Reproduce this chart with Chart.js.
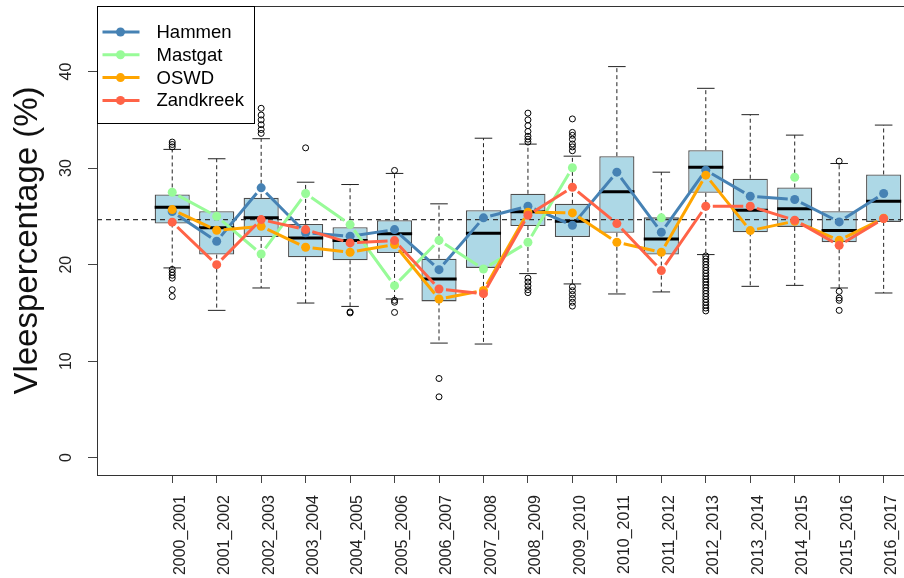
<!DOCTYPE html>
<html>
<head>
<meta charset="utf-8">
<title>Vleespercentage</title>
<script src="https://cdn.jsdelivr.net/npm/chart.js@4.4.1/dist/chart.umd.min.js"></script>
<style>
  body { margin: 0; background: #fff; }
  #wrap { width: 904px; height: 578px; overflow: hidden; }
</style>
</head>
<body>
<div id="wrap"><canvas id="chart" width="950" height="578"></canvas></div>
<script>
// seasons on the x axis
const seasons = ['2000_2001', '2001_2002', '2002_2003', '2003_2004', '2004_2005', '2005_2006',
  '2006_2007', '2007_2008', '2008_2009', '2009_2010', '2010_2011', '2011_2012',
  '2012_2013', '2013_2014', '2014_2015', '2015_2016', '2016_2017'];
const yTicks = [0, 10, 20, 30, 40];

// boxplot stats per season
const boxQ1 = [24.26, 21.04, 22.87, 20.76, 20.45, 21.21, 16.19, 19.66, 24.0, 22.85, 23.3, 21.04, 27.44, 23.35, 23.91, 22.32, 24.43];
const boxMedian = [25.95, 23.81, 24.85, 22.77, 22.49, 23.19, 18.52, 23.25, 25.47, 24.5, 27.54, 22.66, 30.1, 25.64, 25.78, 23.53, 26.57];
const boxQ3 = [27.27, 25.53, 26.92, 24.22, 23.87, 24.6, 20.62, 25.64, 27.34, 26.3, 31.24, 24.9, 31.86, 28.9, 27.99, 25.53, 29.34];
const whiskerLow = [19.66, 15.26, 17.58, 16.02, 15.67, 16.44, 11.87, 11.77, 19.07, 18.0, 16.96, 17.17, 21.04, 17.75, 17.85, 17.58, 17.06];
const whiskerHigh = [31.94, 30.97, 33.05, 28.54, 28.3, 29.45, 26.3, 33.1, 32.49, 31.24, 40.52, 29.58, 38.27, 35.54, 33.42, 30.48, 34.46];
const outliers = [
  [32.7, 32.45, 32.2, 19.5, 19.2, 18.9, 18.6, 17.4, 16.7],
  [],
  [36.2, 35.5, 35.0, 34.5, 34.0, 33.6],
  [32.1],
  [15.1, 15.0],
  [29.76, 16.3, 16.1, 15.05],
  [8.2, 6.3],
  [],
  [35.7, 35.0, 34.4, 33.8, 33.3, 33.0, 32.7, 18.6, 18.2, 17.8, 17.4, 17.1],
  [35.1, 33.7, 33.4, 33.0, 32.5, 32.2, 31.8, 17.7, 17.3, 16.9, 16.5, 16.1, 15.7],
  [],
  [],
  [20.9, 20.6, 20.3, 20.0, 19.7, 19.4, 19.1, 18.8, 18.5, 18.2, 17.9, 17.6, 17.3, 17.0, 16.7, 16.4, 16.1, 15.8, 15.5, 15.2],
  [],
  [],
  [30.72, 17.23, 16.54, 16.3, 15.26],
  []
];
const refLine = 24.67;

// the four areas
const hammen = [25.5, 22.42, 27.96, 23.3, 22.94, 23.63, 19.48, 24.85, 26.05, 24.08, 29.58, 23.35, 29.79, 27.09, 26.75, 24.43, 27.37];
const mastgat = [27.5, 25.0, 21.1, 27.37, 24.15, 17.82, 22.52, 19.55, 22.32, 30.04, null, 24.85, null, null, 29.06, null, null];
const oswd = [25.7, 23.56, 23.97, 21.8, 21.28, 22.08, 16.44, 17.33, 25.43, 25.36, 22.32, 21.28, 29.27, 23.53, 24.5, 22.52, 24.8];
const zandkreek = [24.4, 20.0, 24.67, 23.63, 22.25, 22.49, 17.48, 16.99, 25.12, 28.02, 24.25, 19.38, 26.05, 26.05, 24.6, 22.0, 24.77];

const seriesNames = ['Hammen', 'Mastgat', 'OSWD', 'Zandkreek'];
const seriesColors = ['#4682B4', '#98FB98', '#FFA500', '#FF6347'];

Chart.defaults.font.family = "'Liberation Sans', Arial, sans-serif";

function lineSet(i, values) {
  return {
    type: 'line',
    label: seriesNames[i],
    data: values.map((v, k) => ({ x: k, y: v })),
    borderColor: seriesColors[i],
    backgroundColor: seriesColors[i],
    pointBackgroundColor: seriesColors[i],
    borderWidth: 3,
    pointRadius: 4.5,
    pointBorderWidth: 0,
    showLine: false, // segments drawn with gaps below, like R type="b"
    order: 3 - i
  };
}

const outlierPoints = [];
outliers.forEach((list, i) => list.forEach(v => outlierPoints.push({ x: i, y: v })));

const BOX_INDEX = 5;
const GAP = 7;

// whiskers, medians, reference line, gapped lines, frame and legend
const boxExtras = {
  id: 'boxExtras',
  beforeDatasetsDraw(chart) {
    const ctx = chart.ctx;
    const x = chart.scales.x, y = chart.scales.y;
    const meta = chart.getDatasetMeta(BOX_INDEX);
    ctx.save();
    ctx.strokeStyle = '#222';
    ctx.lineWidth = 1;
    seasons.forEach((s, i) => {
      const px = x.getPixelForValue(i);
      const half = meta.data[i].width / 4;
      ctx.setLineDash([4, 3]);
      ctx.beginPath();
      ctx.moveTo(px, y.getPixelForValue(boxQ3[i]));
      ctx.lineTo(px, y.getPixelForValue(whiskerHigh[i]));
      ctx.moveTo(px, y.getPixelForValue(boxQ1[i]));
      ctx.lineTo(px, y.getPixelForValue(whiskerLow[i]));
      ctx.stroke();
      ctx.setLineDash([]);
      ctx.beginPath();
      ctx.moveTo(px - half, y.getPixelForValue(whiskerHigh[i]));
      ctx.lineTo(px + half, y.getPixelForValue(whiskerHigh[i]));
      ctx.moveTo(px - half, y.getPixelForValue(whiskerLow[i]));
      ctx.lineTo(px + half, y.getPixelForValue(whiskerLow[i]));
      ctx.stroke();
    });
    ctx.restore();
  },
  beforeDatasetDraw(chart, args) {
    if (args.index > 3) return;
    const ctx = chart.ctx;
    const pts = chart.getDatasetMeta(args.index).data;
    const raw = chart.data.datasets[args.index].data;
    ctx.save();
    ctx.strokeStyle = seriesColors[args.index];
    ctx.lineWidth = 3;
    ctx.beginPath();
    for (let k = 0; k < pts.length - 1; k++) {
      if (raw[k].y === null || raw[k + 1].y === null) continue;
      const a = pts[k], b = pts[k + 1];
      const dx = b.x - a.x, dy = b.y - a.y;
      const d = Math.hypot(dx, dy);
      if (d <= 2 * GAP) continue;
      const ux = dx / d, uy = dy / d;
      ctx.moveTo(a.x + ux * GAP, a.y + uy * GAP);
      ctx.lineTo(b.x - ux * GAP, b.y - uy * GAP);
    }
    ctx.stroke();
    ctx.restore();
  },
  afterDatasetDraw(chart, args) {
    if (args.index !== BOX_INDEX) return;
    const ctx = chart.ctx;
    const x = chart.scales.x, y = chart.scales.y;
    const meta = chart.getDatasetMeta(BOX_INDEX);
    const area = chart.chartArea;
    ctx.save();
    ctx.strokeStyle = '#000';
    ctx.lineWidth = 3;
    seasons.forEach((s, i) => {
      const px = x.getPixelForValue(i);
      const half = meta.data[i].width / 2;
      const py = y.getPixelForValue(boxMedian[i]);
      ctx.beginPath();
      ctx.moveTo(px - half, py);
      ctx.lineTo(px + half, py);
      ctx.stroke();
    });
    // overall reference line
    const ry = y.getPixelForValue(refLine);
    ctx.strokeStyle = '#333';
    ctx.lineWidth = 1.2;
    ctx.setLineDash([5, 4]);
    ctx.beginPath();
    ctx.moveTo(area.left, ry);
    ctx.lineTo(area.right, ry);
    ctx.stroke();
    ctx.restore();
  },
  afterDraw(chart) {
    const ctx = chart.ctx;
    const area = chart.chartArea;
    ctx.save();
    ctx.strokeStyle = '#333';
    ctx.lineWidth = 1;
    ctx.strokeRect(area.left + 0.5, area.top + 0.5, area.right - area.left, area.bottom - area.top);

    // legend box, top left like R's legend("topleft")
    const lx = area.left + 0.5, ly = area.top + 0.5;
    ctx.fillStyle = '#fff';
    ctx.fillRect(lx, ly, 157, 117);
    ctx.strokeStyle = '#000';
    ctx.strokeRect(lx, ly, 157, 117);
    ctx.font = "18.5px 'Liberation Sans', Arial, sans-serif";
    ctx.textBaseline = 'middle';
    seriesNames.forEach((name, i) => {
      const yy = area.top + 26 + i * 22.8;
      ctx.strokeStyle = seriesColors[i];
      ctx.lineWidth = 3;
      ctx.beginPath();
      ctx.moveTo(lx + 5, yy);
      ctx.lineTo(lx + 42, yy);
      ctx.stroke();
      ctx.fillStyle = seriesColors[i];
      ctx.beginPath();
      ctx.arc(lx + 23, yy, 4.5, 0, Math.PI * 2);
      ctx.fill();
      ctx.fillStyle = '#000';
      ctx.fillText(name, lx + 59, yy + 1);
    });
    ctx.restore();
  }
};

new Chart(document.getElementById('chart'), {
  type: 'bar',
  data: {
    datasets: [
      lineSet(0, hammen),
      lineSet(1, mastgat),
      lineSet(2, oswd),
      lineSet(3, zandkreek),
      {
        type: 'scatter',
        label: 'outliers',
        data: outlierPoints,
        pointRadius: 3,
        pointBorderWidth: 1,
        pointBorderColor: '#000',
        pointBackgroundColor: 'rgba(0,0,0,0)',
        showLine: false,
        order: 4
      },
      {
        type: 'bar',
        label: 'box',
        data: seasons.map((s, i) => ({ x: i, y: [boxQ1[i], boxQ3[i]] })),
        backgroundColor: '#ADD8E6',
        borderColor: '#4d4d4d',
        borderWidth: 1.3,
        borderSkipped: false,
        barPercentage: 0.79,
        categoryPercentage: 1,
        order: 5
      }
    ]
  },
  options: {
    responsive: false,
    animation: false,
    layout: { padding: { top: 6, right: 13, left: 0, bottom: 0 } },
    plugins: {
      legend: { display: false },
      tooltip: { enabled: false }
    },
    scales: {
      x: {
        type: 'linear',
        min: -1.692,
        max: 17.2,
        offset: false,
        afterBuildTicks: s => { s.ticks = seasons.map((_, i) => ({ value: i })); },
        afterFit: s => { s.height = 103; s.paddingLeft = 0; s.paddingRight = 0; },
        grid: { drawOnChartArea: false, offset: false, tickLength: 8, color: '#444' },
        border: { display: false },
        ticks: {
          autoSkip: false,
          minRotation: 90,
          maxRotation: 90,
          padding: 12,
          labelOffset: 8,
          color: '#222',
          font: { size: 16 },
          callback: v => seasons[v]
        }
      },
      y: {
        min: -1.8,
        max: 46.8,
        afterBuildTicks: s => { s.ticks = yTicks.map(v => ({ value: v })); },
        afterFit: s => { s.width = 97; s.paddingTop = 0; s.paddingBottom = 0; },
        grid: { drawOnChartArea: false, tickLength: 9, color: '#444' },
        border: { display: false },
        ticks: {
          minRotation: 90,
          crossAlign: 'center',
          padding: 13,
          color: '#222',
          font: { size: 16 }
        },
        title: {
          display: true,
          text: 'Vleespercentage (%)',
          color: '#111',
          font: { size: 33 },
          padding: { top: 8, bottom: 0 }
        }
      }
    }
  },
  plugins: [boxExtras]
});
</script>
</body>
</html>
